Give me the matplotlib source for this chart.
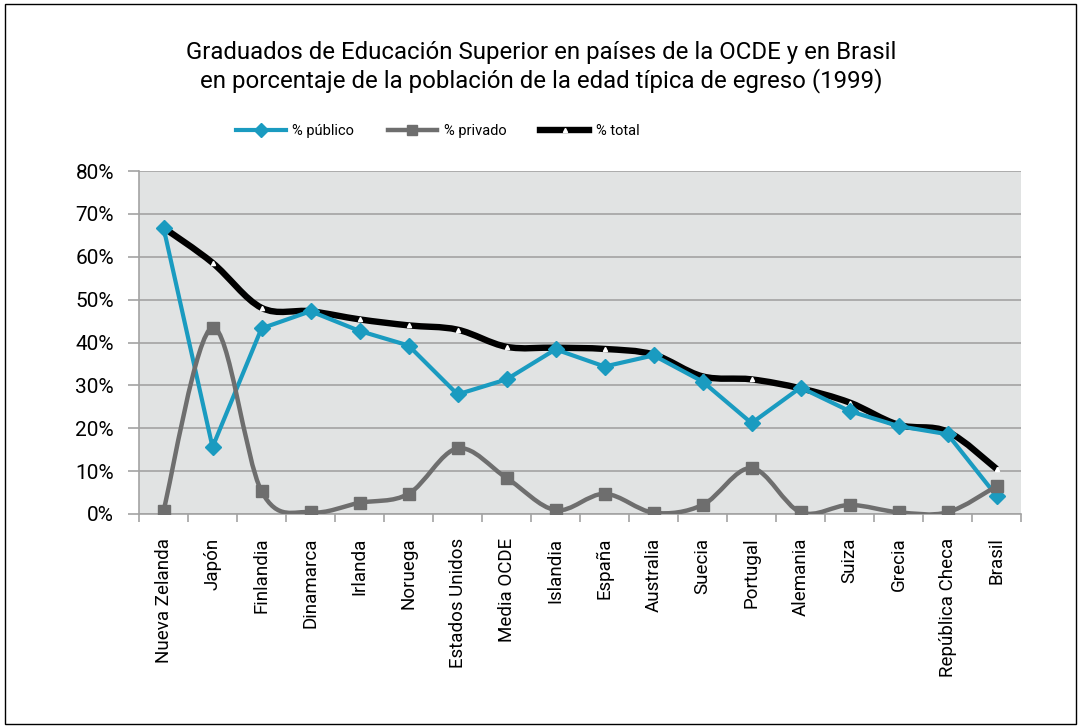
import numpy as np
import matplotlib
matplotlib.use("Agg")
import matplotlib.pyplot as plt
from matplotlib.path import Path
from matplotlib.patches import PathPatch, Rectangle
from matplotlib.lines import Line2D

plt.rcParams['font.family'] = ['Roboto', 'DejaVu Sans']

paises = ['Nueva Zelanda', 'Japón', 'Finlandia', 'Dinamarca', 'Irlanda', 'Noruega',
          'Estados Unidos', 'Media OCDE', 'Islandia', 'España', 'Australia', 'Suecia',
          'Portugal', 'Alemania', 'Suiza', 'Grecia', 'República Checa', 'Brasil']
publico = [66.8, 15.6, 43.3, 47.3, 42.7, 39.3, 27.9, 31.4, 38.4, 34.4, 37.0, 30.9,
           21.2, 29.5, 24.0, 20.5, 18.6, 4.2]
privado = [0.8, 43.5, 5.3, 0.4, 2.6, 4.7, 15.3, 8.4, 0.9, 4.7, 0.3, 2.1,
           10.7, 0.4, 2.1, 0.4, 0.4, 6.5]
total = [66.8, 58.6, 48.1, 47.3, 45.4, 44.0, 43.0, 39.0, 38.8, 38.5, 37.2, 32.1,
         31.4, 29.3, 26.0, 20.8, 19.2, 10.5]

AZUL = '#1a9bc0'
GRIS = '#6e6e6e'


def smooth_path(xs, ys):
    # excel-style smoothed line: cubic bezier through every point
    pts = np.column_stack([xs, ys]).astype(float)
    n = len(pts)
    verts = [pts[0]]
    codes = [Path.MOVETO]
    for i in range(n - 1):
        p0 = pts[max(i - 1, 0)]
        p1 = pts[i]
        p2 = pts[i + 1]
        p3 = pts[min(i + 2, n - 1)]
        c1 = p1 + (p2 - p0) / 6.0
        c2 = p2 - (p3 - p1) / 6.0
        verts += [c1, c2, p2]
        codes += [Path.CURVE4] * 3
    return Path(verts, codes)


fig = plt.figure(figsize=(10.81, 7.28), dpi=100)
fig.patches.append(Rectangle((5 / 1081, 4 / 728), 1071 / 1081, 720 / 728,
                             transform=fig.transFigure, fill=False,
                             edgecolor='black', linewidth=1))

ax = fig.add_axes([0.1286, 0.294, 0.816, 0.471])
ax.set_facecolor('#e1e3e3')
x = np.arange(len(paises))

ax.add_patch(PathPatch(smooth_path(x, total), fill=False, edgecolor='black',
                       linewidth=4.6, capstyle='butt', zorder=3))
ax.plot(x, total, linestyle='none', marker='^', ms=3, mfc='white', mec='white', zorder=4)

ax.plot(x, publico, color=AZUL, lw=3, marker='D', ms=8, mfc=AZUL, mec=AZUL, zorder=5)

ax.add_patch(PathPatch(smooth_path(x, privado), fill=False, edgecolor=GRIS,
                       linewidth=3.2, zorder=6))
ax.plot(x, privado, linestyle='none', marker='s', ms=8.5, mfc=GRIS, mec=GRIS, zorder=7)

ax.set_xlim(-0.5, len(paises) - 0.5)
ax.set_ylim(0, 80)
ax.set_yticks(range(0, 81, 10))
ax.set_yticklabels([f'{v}%' for v in range(0, 81, 10)], fontsize=15)
ax.yaxis.grid(True, color='#a3a3a3', linewidth=1.2)
ax.set_axisbelow(True)

ax.set_xticks(x)
ax.set_xticklabels(paises, rotation=90, fontsize=13.5, va='top')
ax.set_xticks(np.arange(-0.5, len(paises)), minor=True)
ax.tick_params(axis='x', which='major', length=0, pad=17)
ax.tick_params(axis='x', which='minor', length=6, color='#a3a3a3', width=1.2)
ax.tick_params(axis='y', length=8, color='#a3a3a3', width=1.2, pad=10)

for s in ['top', 'right']:
    ax.spines[s].set_visible(False)
for s in ['left', 'bottom']:
    ax.spines[s].set_color('#a3a3a3')
    ax.spines[s].set_linewidth(1.2)

fig.text(0.501, 0.908, 'Graduados de Educación Superior en países de la OCDE y en Brasil\n'
         'en porcentaje de la población de la edad típica de egreso (1999)',
         ha='center', va='center', fontsize=17.3, linespacing=1.21)

handles = [Line2D([], [], color=AZUL, lw=3, marker='D', ms=7, mfc=AZUL, mec=AZUL),
           Line2D([], [], color=GRIS, lw=3.2, marker='s', ms=7, mfc=GRIS, mec=GRIS),
           Line2D([], [], color='black', lw=4.6, marker='^', ms=3, mfc='white', mec='white')]
fig.legend(handles, ['% público', '% privado', '% total'], loc='center',
           bbox_to_anchor=(0.405, 0.82), ncol=3, frameon=False, fontsize=10.5,
           handlelength=3.4, handletextpad=0.45, columnspacing=2.3)

fig.savefig('out.png', dpi=100)
